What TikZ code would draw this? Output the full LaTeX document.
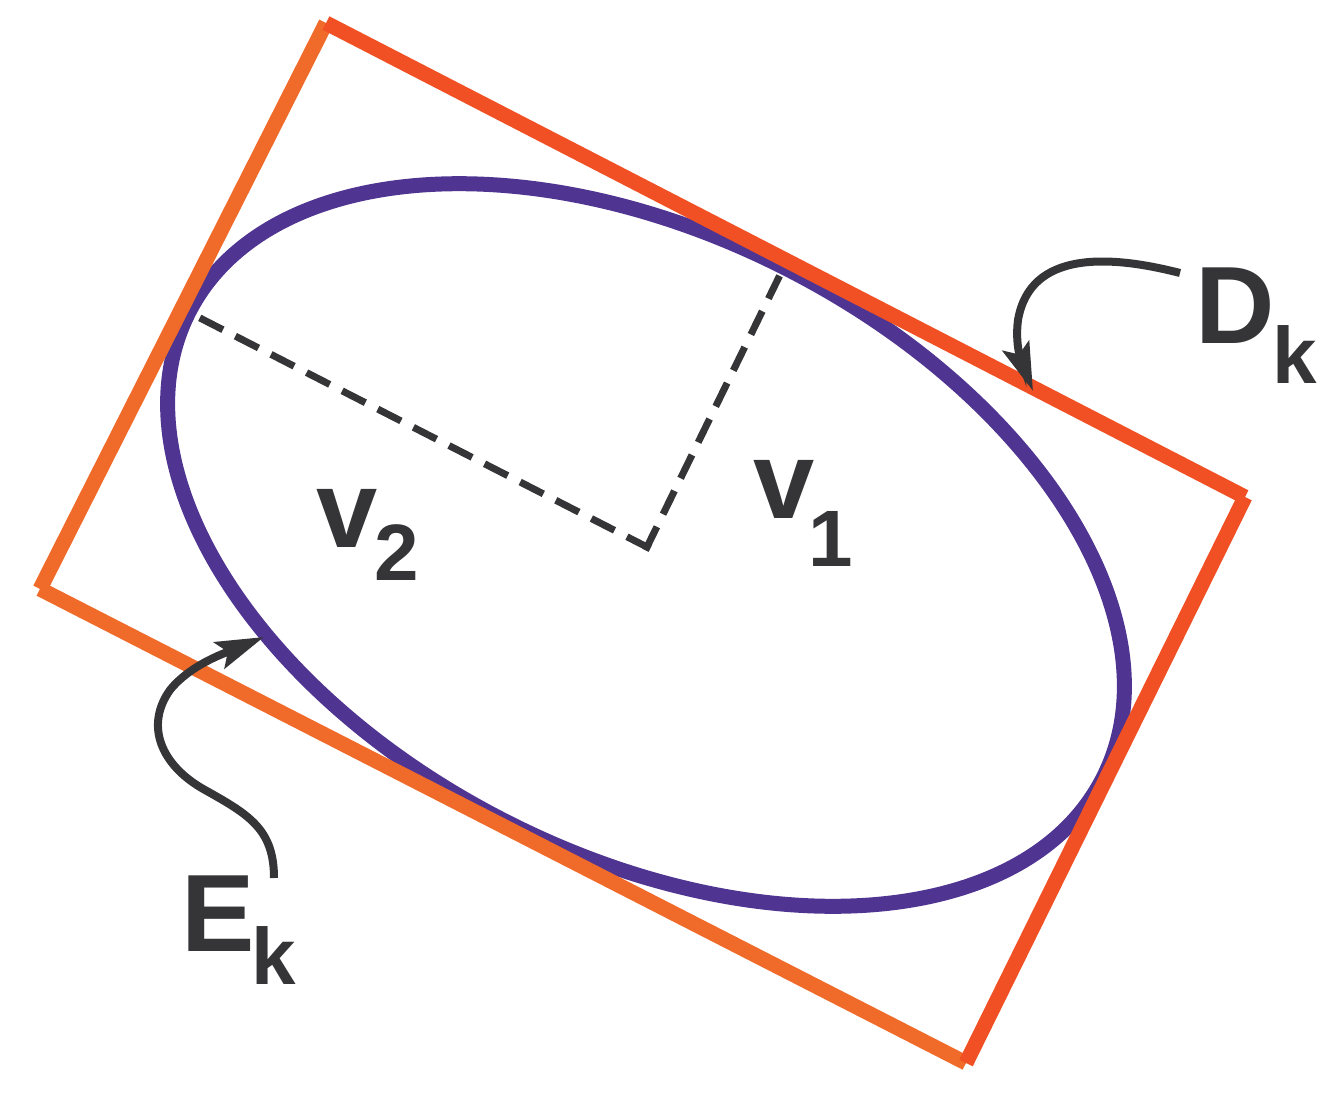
\documentclass[tikz,border=0pt]{standalone}
\usepackage{fontspec}
\setmainfont{Liberation Sans}
\usetikzlibrary{arrows.meta}
\definecolor{rorange}{RGB}{240,106,42}
\definecolor{rred}{RGB}{240,80,35}
\definecolor{epurple}{RGB}{79,53,145}
\definecolor{dgray}{RGB}{53,53,56}
\tikzset{
  edgeO/.style={draw=rorange, line width=15pt, line cap=butt},
  edgeR/.style={draw=rred, line width=15pt, line cap=butt},
  ell/.style={draw=epurple, line width=15pt},
  dashline/.style={draw=dgray, line width=7pt, dash pattern=on 19pt off 21pt, line cap=rect},
  arr/.style={draw=dgray, line width=8pt, -{Stealth[length=48pt, width=28pt, inset=9pt]}},
  lbl/.style={text=dgray, font=\bfseries, inner sep=0pt, outer sep=0pt, anchor=base west}
}
\newcommand{\bigf}{\fontsize{110}{110}\selectfont}
\newcommand{\subf}{\fontsize{80}{80}\selectfont}
\begin{document}
\begin{tikzpicture}[x=1pt,y=-1pt]
\useasboundingbox (0,0) rectangle (1341,1105);
% rectangle corners
\coordinate (T) at (326,23);
\coordinate (R) at (1245,497);
\coordinate (B) at (966,1063);
\coordinate (L) at (40,589);
\coordinate (EC) at (646,545);
\coordinate (C0) at (647,547);
\coordinate (V1) at (778,279);
\coordinate (V2) at (200,318);
% ellipse
\draw[ell, rotate around={-27:(EC)}] (EC) ellipse [x radius=513, y radius=310];
% rectangle
\draw[edgeO] (L) -- (T);
\draw[edgeO] (L) -- (B);
\draw[edgeR] (T) -- (R);
\draw[edgeR] (R) -- (B);
% axes
\draw[dashline] (C0) -- (V1);
\draw[dashline] (C0) -- (V2);
% labels
\node[lbl] (Dk) at (1195,343) {\bigf D\kern-2pt\raisebox{-40pt}{\subf k}};
\node[lbl] (Ek) at (181,951) {\bigf E\kern-3pt\raisebox{-33pt}{\subf k}};
\node[lbl] (v1) at (753,518) {\bigf v\kern-6pt\raisebox{-48pt}{\subf 1}};
\node[lbl] (v2) at (316,547) {\bigf v\kern-3pt\raisebox{-33pt}{\subf 2}};
% arrows
\coordinate (Ds) at (1180,273);
\coordinate (Dm) at (1018,320);
\coordinate (Dt) at (1033,391);
\draw[arr] (Ds) .. controls (1110,255) and (1030,250) .. (Dm) .. controls (1014,350) and (1025,370) .. (Dt);
\coordinate (Es) at (274,878);
\coordinate (Em1) at (205,790);
\coordinate (Em2) at (170,690);
\coordinate (Et) at (264,637);
\draw[arr] (Es) .. controls (274,830) and (250,815) .. (Em1) .. controls (160,765) and (145,725) .. (Em2) .. controls (190,665) and (225,653) .. (Et);
\end{tikzpicture}
\end{document}
